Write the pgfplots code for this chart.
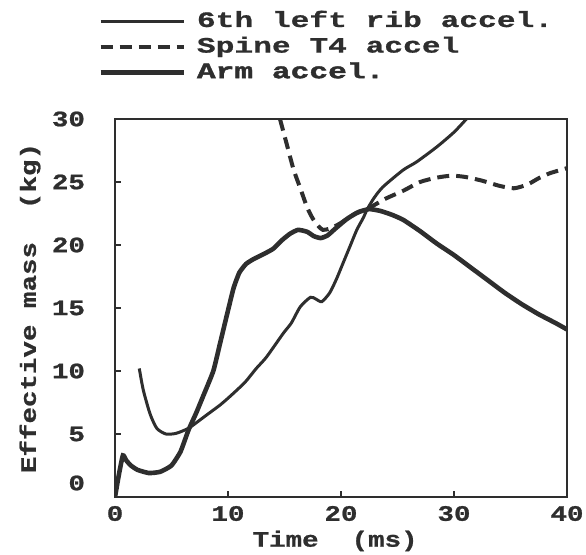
\documentclass[border=0pt]{standalone}
\usepackage{fontspec}
\setmainfont{Liberation Mono}
\usepackage{pgfplots}
\pgfplotsset{compat=1.18}
\definecolor{ink}{HTML}{2E2E2E}
\newcommand{\tickfont}{\fontsize{11}{13}\selectfont\bfseries\addfontfeature{FakeStretch=1.25,FakeBold=1}}
\newcommand{\legfont}{\fontsize{11}{13}\selectfont\bfseries\addfontfeature{FakeStretch=1.42,FakeBold=0.8}}
\begin{document}
\begin{tikzpicture}
\begin{axis}[name=ax, scale only axis, width=226pt, height=189pt,
  xmin=0, xmax=40, ymin=0, ymax=30,
  xtick={0,10,20,30,40}, ytick={0,5,10,15,20,25,30},
  yticklabels={\raisebox{7pt}[\height][\depth]{0},5,10,15,20,25,30},
  tick pos=left, tick align=inside, major tick length=3pt,
  axis line style={line width=1.3pt, ink},
  every tick/.style={line width=1.3pt, ink},
  /pgf/number format/assume math mode=true,
  tick label style={font=\tickfont, text=ink},
  xticklabel style={yshift=-1pt},
  yticklabel style={xshift=-11.5pt},
  xlabel={Time\ \ (ms)}, ylabel={Effective mass\ \ (kg)},
  every axis x label/.style={at={([yshift=-22pt]axis description cs:0.487,0)}, anchor=center, font=\tickfont, text=ink},
  every axis y label/.style={at={([xshift=-42.5pt]axis description cs:0,0.5)}, rotate=90, anchor=center, font=\tickfont, text=ink},
  legend cell align=left,
  legend style={at={(axis description cs:-0.051,1.30)}, anchor=north west, draw=none, fill=none,
    font=\legfont, text=ink,
    nodes={text height=8pt, text depth=2.5pt, inner sep=0.5pt},
    row sep=1.3pt, column sep=5pt},
  legend image code/.code={\draw[#1] (0pt,0pt) -- (41.5pt,0pt);},
]
\addplot[ink, line width=1.5pt, smooth, tension=0.4] coordinates {
(2.15,10.2) (2.5,8.5) (3.1,6.6) (3.7,5.45) (4.5,5.0) (5.4,5.05) (6.5,5.45)
(7.5,6.1) (8.4,6.7) (9.3,7.3) (10.2,8.0) (11.5,9.1) (12.5,10.2) (13.4,11.1)
(14.9,13.0) (15.6,13.8) (16.4,15.1) (17.3,15.85) (17.8,15.7) (18.3,15.5)
(19.0,16.2) (19.6,17.3) (20.2,18.6) (20.8,19.9) (21.4,21.2) (22.0,22.2)
(22.3,22.8) (22.9,23.7) (23.7,24.6) (25.5,25.95) (26.7,26.6) (28.5,27.8)
(30.0,28.95) (31.1,30.0)
};
\addlegendentry{6th left rib accel.}
\addplot[ink, line width=2pt, dash pattern=on 6pt off 3.5pt, smooth, tension=0.4] coordinates {
(14.6,30) (15.2,28.0) (15.8,26.0) (16.4,24.5) (17.0,23.0) (17.5,22.1) (18.0,21.5)
(18.4,21.2) (19.0,21.3) (19.9,21.7) (21.1,22.4) (22.6,23.0) (24.0,23.7)
(25.5,24.3) (27.0,25.0) (28.5,25.35) (29.8,25.5) (31.0,25.4) (32.5,25.1)
(34.0,24.7) (35.3,24.5) (36.5,24.8) (37.5,25.3) (38.5,25.7) (40.0,26.1)
};
\addlegendentry{Spine T4 accel}
\addplot[ink, line width=2.3pt, smooth, tension=0.3] coordinates {
(0,0) (0.35,1.8) (0.7,3.3) (1.0,2.9) (1.4,2.5) (2.0,2.15) (3.0,1.9) (4.0,2.0)
(5.0,2.5) (5.8,3.6) (6.5,5.3) (7.2,6.7) (7.8,8.0) (8.7,10.0) (9.3,12.2)
(10.0,14.8) (10.5,16.6) (11.0,17.8) (11.6,18.5) (12.3,18.9) (13.2,19.3)
(14.0,19.7) (14.8,20.4) (15.5,20.9) (16.2,21.2) (17.0,21.05) (17.6,20.7)
(18.2,20.55) (18.8,20.75) (19.5,21.3) (20.5,22.05) (21.5,22.6) (22.5,22.85)
(23.5,22.7) (24.5,22.4) (25.5,22.0) (27.0,21.1) (28.5,20.1) (30.0,19.2)
(31.5,18.2) (33.0,17.2) (34.5,16.2) (36.0,15.3) (37.5,14.5) (39.0,13.8) (40.0,13.3)
};
\addlegendentry{\addfontfeature{FakeBold=2}Arm accel.}
\end{axis}
\pgfresetboundingbox
\path[use as bounding box] ([shift={(-57.5pt,-29pt)}]ax.south west) rectangle ([shift={(235.5pt,248.5pt)}]ax.south west);
\end{tikzpicture}
\end{document}
